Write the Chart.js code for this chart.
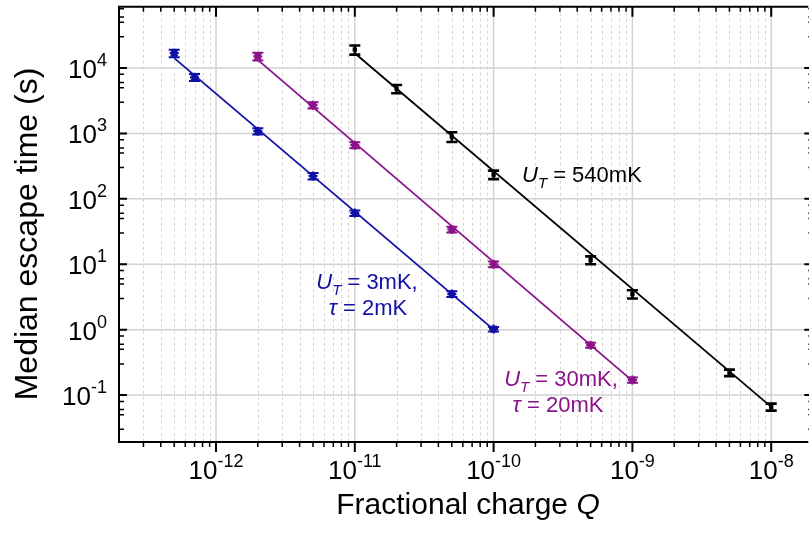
<!DOCTYPE html>
<html>
<head>
<meta charset="utf-8">
<script src="https://cdn.jsdelivr.net/npm/chart.js@4.4.1/dist/chart.umd.min.js"></script>
<style>
html, body { margin: 0; padding: 0; background: #fff; overflow: hidden; }
#wrap { width: 815px; height: 533px; }
</style>
</head>
<body>
<div id="wrap"><canvas id="chart" width="815" height="533"></canvas></div>
<script>
// U_T = 3mK, tau = 2mK
var chargeBlue = [5e-13, 7e-13, 2e-12, 5e-12, 1e-11, 5e-11, 1e-10];
var timeBlue = [16800, 7200, 1080, 223, 60.5, 3.5, 1.02];
var errBlue = [2200, 900, 120, 25, 6, 0.35, 0.08];
var fitBlueQ = [5e-13, 1e-10];
var fitBlueT = [14100, 1.0];

// U_T = 30mK, tau = 20mK
var chargePurple = [2e-12, 5e-12, 1e-11, 5e-11, 1e-10, 5e-10, 1e-9];
var timePurple = [15000, 2700, 660, 34, 10, 0.58, 0.17];
var errPurple = [2000, 300, 70, 3.5, 1, 0.05, 0.015];
var fitPurpleQ = [2e-12, 1e-9];
var fitPurpleT = [13300, 0.165];

// U_T = 540mK
var chargeBlack = [1e-11, 2e-11, 5e-11, 1e-10, 5e-10, 1e-9, 5e-9, 1e-8];
var timeBlack = [19000, 4800, 890, 235, 11.6, 3.5, 0.22, 0.066];
var errBlack = [3000, 700, 150, 35, 1.6, 0.5, 0.025, 0.008];
var fitBlackQ = [1e-11, 1e-8];
var fitBlackT = [16800, 0.066];

var xDecades = [-12, -11, -10, -9, -8];
var yDecades = [-1, 0, 1, 2, 3, 4];

var BLUE = '#1010a8';
var PURPLE = '#8b128b';
var BLACK = '#000000';
var FONT = '"Liberation Sans", Arial, sans-serif';

function pts(xs, ys) {
    return xs.map(function(x, i) { return {x: x, y: ys[i]}; });
}

function fitSet(xs, ys, color) {
    return {
        data: pts(xs, ys), showLine: true, borderColor: color, borderWidth: 1.8,
        pointRadius: 0, fill: false, order: 2, errors: null
    };
}

function pointSet(xs, ys, errs, color, style, r) {
    return {
        data: pts(xs, ys), showLine: false, borderColor: color, backgroundColor: color,
        pointStyle: style, pointRadius: r, pointBorderWidth: 2.2, order: 1, errors: errs
    };
}

// text pieces: [text, font, dy]
function drawRuns(ctx, runs, x, y, align) {
    var w = 0;
    runs.forEach(function(r) { ctx.font = r[1]; w += ctx.measureText(r[0]).width; });
    var cx = align == 'center' ? x - w / 2 : align == 'right' ? x - w : x;
    runs.forEach(function(r) {
        ctx.font = r[1];
        ctx.fillText(r[0], cx, y + (r[2] || 0));
        cx += ctx.measureText(r[0]).width;
    });
}

function minorValues(scale, mults) {
    var out = [];
    for (var d = Math.floor(Math.log10(scale.min)); d <= Math.ceil(Math.log10(scale.max)); d++) {
        mults.forEach(function(m) {
            var v = m * Math.pow(10, d);
            if (v > scale.min && v < scale.max) out.push(v);
        });
    }
    return out;
}

var framePlugin = {
    id: 'frame',
    beforeDatasetsDraw: function(chart) {
        var ctx = chart.ctx, a = chart.chartArea,
            xs = chart.scales.x, ys = chart.scales.y;
        ctx.save();
        // dashed minor verticals
        ctx.strokeStyle = '#d6d6d6';
        ctx.lineWidth = 1;
        ctx.setLineDash([3, 3]);
        minorValues(xs, [2, 3, 4, 5, 6, 7, 8, 9]).forEach(function(v) {
            var p = Math.round(xs.getPixelForValue(v)) + 0.5;
            ctx.beginPath(); ctx.moveTo(p, a.top); ctx.lineTo(p, a.bottom); ctx.stroke();
        });
        ctx.setLineDash([]);
        ctx.strokeStyle = '#d2d2d2';
        ctx.lineWidth = 1.5;
        xDecades.forEach(function(d) {
            var p = xs.getPixelForValue(Math.pow(10, d));
            ctx.beginPath(); ctx.moveTo(p, a.top); ctx.lineTo(p, a.bottom); ctx.stroke();
        });
        yDecades.forEach(function(d) {
            var p = ys.getPixelForValue(Math.pow(10, d));
            ctx.beginPath(); ctx.moveTo(a.left, p); ctx.lineTo(a.right, p); ctx.stroke();
        });
        ctx.restore();
    },
    afterDatasetsDraw: function(chart) {
        var ctx = chart.ctx, a = chart.chartArea,
            xs = chart.scales.x, ys = chart.scales.y;
        ctx.save();

        // error bars
        chart.data.datasets.forEach(function(ds) {
            if (!ds.errors) return;
            ctx.strokeStyle = ds.borderColor;
            ctx.lineWidth = ds.borderColor == BLACK ? 2.6 : 2;
            ds.data.forEach(function(p, i) {
                var px = xs.getPixelForValue(p.x),
                    y1 = ys.getPixelForValue(p.y + ds.errors[i]),
                    y2 = ys.getPixelForValue(p.y - ds.errors[i]);
                ctx.beginPath();
                ctx.moveTo(px, y1); ctx.lineTo(px, y2);
                ctx.moveTo(px - 5.5, y1); ctx.lineTo(px + 5.5, y1);
                ctx.moveTo(px - 5.5, y2); ctx.lineTo(px + 5.5, y2);
                ctx.stroke();
            });
        });

        // frame
        ctx.strokeStyle = '#000';
        ctx.lineWidth = 2;
        ctx.beginPath();
        ctx.moveTo(a.right, a.top); ctx.lineTo(a.left, a.top);
        ctx.lineTo(a.left, a.bottom); ctx.lineTo(a.right, a.bottom);
        ctx.stroke();

        // x ticks: outward on the bottom, inward on the top
        function xTick(v, len, w) {
            var p = xs.getPixelForValue(v);
            ctx.lineWidth = w;
            ctx.beginPath();
            ctx.moveTo(p, a.bottom); ctx.lineTo(p, a.bottom + len);
            ctx.moveTo(p, a.top); ctx.lineTo(p, a.top + len);
            ctx.stroke();
        }
        minorValues(xs, [2, 3, 4, 5, 6, 7, 8, 9]).forEach(function(v) { xTick(v, 5, 1.5); });
        xDecades.forEach(function(d) { xTick(Math.pow(10, d), 10, 2); });

        // y ticks, inward on both sides
        function yTick(v, len, rlen, w) {
            var p = ys.getPixelForValue(v);
            ctx.lineWidth = w;
            ctx.beginPath();
            ctx.moveTo(a.left, p); ctx.lineTo(a.left + len, p);
            ctx.moveTo(a.right + 2, p); ctx.lineTo(a.right + 2 - rlen, p);
            ctx.stroke();
        }
        minorValues(ys, [3, 5, 6, 8]).forEach(function(v) { yTick(v, 5, 2, 1.5); });
        yDecades.forEach(function(d) { yTick(Math.pow(10, d), 8, 6, 2); });

        // tick labels
        ctx.fillStyle = '#000';
        ctx.textBaseline = 'alphabetic';
        ctx.textAlign = 'left';
        var big = '26px ' + FONT, sup = '18px ' + FONT;
        xDecades.forEach(function(d) {
            drawRuns(ctx, [['10', big], [String(d), sup, -12]],
                xs.getPixelForValue(Math.pow(10, d)), 479, 'center');
        });
        yDecades.forEach(function(d) {
            drawRuns(ctx, [['10', big], [String(d), sup, -12]],
                107, ys.getPixelForValue(Math.pow(10, d)) + 10, 'right');
        });

        // axis titles
        drawRuns(ctx, [['Fractional charge ', '30px ' + FONT], ['Q', 'italic 30px ' + FONT]],
            468, 514, 'center');
        ctx.save();
        ctx.translate(37, 234);
        ctx.rotate(-Math.PI / 2);
        drawRuns(ctx, [['Median escape time (s)', '32px ' + FONT]], 0, 0, 'center');
        ctx.restore();

        // series labels
        var it = 'italic 22px ' + FONT, sub = 'italic 15px ' + FONT, rg = '22px ' + FONT;
        ctx.fillStyle = BLACK;
        drawRuns(ctx, [['U', it], ['T', sub, 6], [' = 540mK', rg]], 522, 182, 'left');
        ctx.fillStyle = BLUE;
        drawRuns(ctx, [['U', it], ['T', sub, 6], [' = 3mK,', rg]], 367, 289, 'center');
        drawRuns(ctx, [['\u03c4', it], [' = 2mK', rg]], 368, 315, 'center');
        ctx.fillStyle = PURPLE;
        drawRuns(ctx, [['U', it], ['T', sub, 6], [' = 30mK,', rg]], 561, 386, 'center');
        drawRuns(ctx, [['\u03c4', it], [' = 20mK', rg]], 558, 412, 'center');

        ctx.restore();
    }
};

new Chart(document.getElementById('chart').getContext('2d'), {
    type: 'scatter',
    data: {
        datasets: [
            fitSet(fitBlueQ, fitBlueT, BLUE),
            fitSet(fitPurpleQ, fitPurpleT, PURPLE),
            fitSet(fitBlackQ, fitBlackT, BLACK),
            pointSet(chargeBlue, timeBlue, errBlue, BLUE, 'star', 4.5),
            pointSet(chargePurple, timePurple, errPurple, PURPLE, 'star', 4.5),
            pointSet(chargeBlack, timeBlack, errBlack, BLACK, 'rect', 1.5)
        ]
    },
    options: {
        responsive: false,
        animation: false,
        devicePixelRatio: 1,
        layout: { padding: { left: 119, top: 5, right: 3, bottom: 91 } },
        plugins: { legend: { display: false }, tooltip: { enabled: false } },
        scales: {
            x: { type: 'logarithmic', min: 2e-13, max: 1.85e-8, display: false },
            y: { type: 'logarithmic', min: 0.0192, max: 86300, display: false }
        }
    },
    plugins: [framePlugin]
});
</script>
</body>
</html>
